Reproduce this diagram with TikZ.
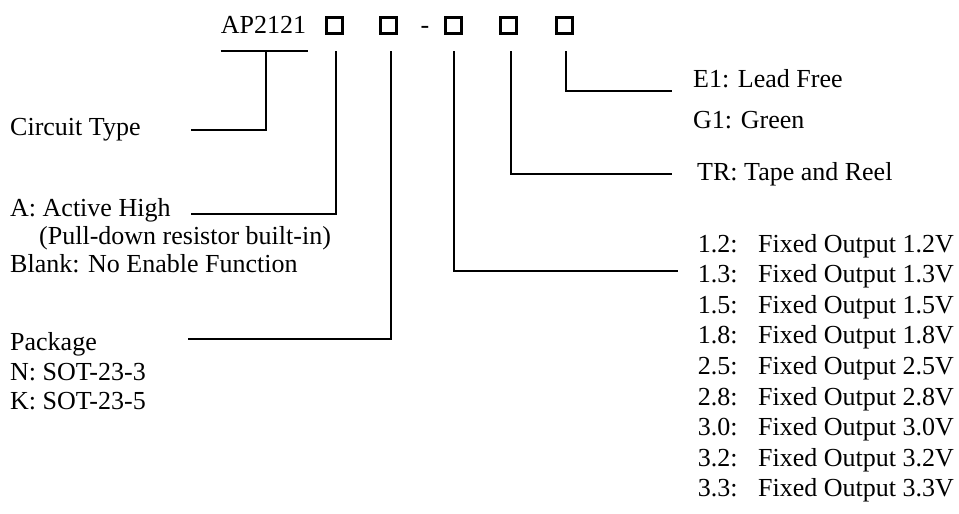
\documentclass[tikz,border=0pt]{standalone}
\usepackage{fontspec}
\setmainfont{Liberation Serif}
\begin{document}
\begin{tikzpicture}[x=1pt, y=-1pt,
  lbl/.style={anchor=base west, inner sep=0pt, font=\fontsize{26}{30}\selectfont},
  sq/.style={draw, line width=3pt, minimum size=16pt, inner sep=0pt},
  conn/.style={line width=2pt}
]
\useasboundingbox (0,0) rectangle (959,514);
\node[lbl] (part) at (220.7,33) {AP2121};
\node[sq] (b1) at (334.5,25.5) {};
\node[sq] (b2) at (388,25.5) {};
\node[lbl, anchor=base] (dash) at (425,33) {-};
\node[sq] (b3) at (453.5,25.5) {};
\node[sq] (b4) at (508.5,25.5) {};
\node[sq] (b5) at (564,25.5) {};
\node[lbl] (ct) at (10,135) {Circuit Type};
\node[lbl] (act) at (10,216.7) {A: Active High};
\node[lbl] (pull) at (39,244.5) {(Pull-down resistor built-in)};
\node[lbl] (blank) at (10,272.5) {Blank: No Enable Function};
\node[lbl] (pkg) at (10,350) {Package};
\node[lbl] (sot3) at (10,380) {N: SOT-23-3};
\node[lbl] (sot5) at (10,409) {K: SOT-23-5};
\node[lbl] (e1) at (693,87) {E1: Lead Free};
\node[lbl] (g1) at (693,128) {G1: Green};
\node[lbl] (tr) at (697,180) {TR: Tape and Reel};
\foreach \vo [count=\i from 0] in {1.2,1.3,1.5,1.8,2.5,2.8,3.0,3.2,3.3} {
  \node[lbl] (vc\i) at (697.7,252+30.6*\i) {\vo:};
  \node[lbl] (vf\i) at (758,252+30.6*\i) {Fixed Output \vo V};
}
\coordinate (u1) at (220.7,51);
\coordinate (u2) at (308,51);
\coordinate (t0) at (266,51);
\coordinate (t1) at (335.7,51);
\coordinate (t2) at (391,51);
\coordinate (t3) at (454,51);
\coordinate (t4) at (511,51);
\coordinate (t5) at (566,51);
\coordinate (ctL) at (191,130);
\coordinate (actL) at (191,214);
\coordinate (pkgL) at (188,339);
\coordinate (voR) at (678,271);
\coordinate (trR) at (672,174);
\coordinate (e1R) at (672,91);
\draw[conn] (u1) -- (u2);
\draw[conn] (t0) |- (ctL);
\draw[conn] (t1) |- (actL);
\draw[conn] (t2) |- (pkgL);
\draw[conn] (t3) |- (voR);
\draw[conn] (t4) |- (trR);
\draw[conn] (t5) |- (e1R);
\end{tikzpicture}
\end{document}
